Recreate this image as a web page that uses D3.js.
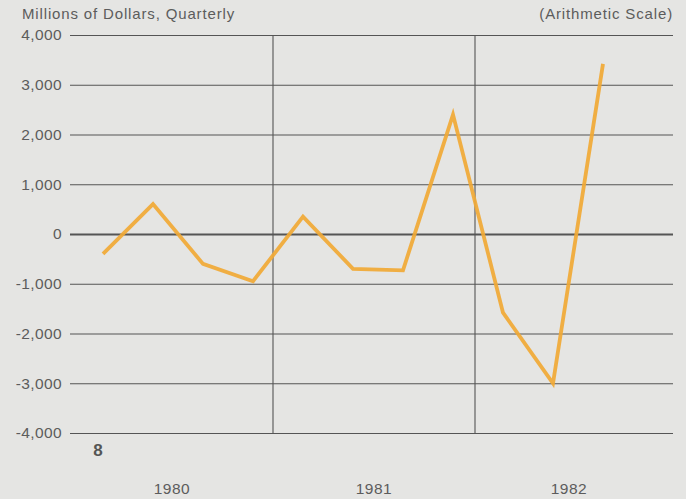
<!DOCTYPE html>
<html><head><meta charset="utf-8">
<script src="https://cdn.jsdelivr.net/npm/d3@7"></script>
<style>
html,body{margin:0;padding:0;background:#e5e5e3;}
svg{display:block;font-family:"Liberation Sans",Arial,sans-serif;}
</style></head>
<body><svg id="c" width="686" height="499"></svg>
<script>
const years = ["1980","1981","1982"];
const quarters = ["1980Q1","1980Q2","1980Q3","1980Q4","1981Q1","1981Q2","1981Q3","1981Q4","1982Q1","1982Q2","1982Q3"];
const values = [-400, 600, -600, -950, 350, -700, -730, 2400, -1580, -3000, 3420];
const yTicks = [4000,3000,2000,1000,0,-1000,-2000,-3000,-4000];

(function(){
const svg = d3.select("#c");
const W = 686, H = 499;
const pLeft = 70, pRight = 673, pTop = 35, pBottom = 433;
const textCol = "#5c5c5c";

// year scale: boundaries at 0, 1, 2, 3
const xYear = d3.scaleLinear().domain([0, 3]).range([71, 677]);
// quarterly points
const x = d3.scalePoint().domain(quarters).range([103, 603]);
const y = d3.scaleLinear().domain([-4000, 4000]).range([pBottom, pTop]);

const fmt = d3.formatLocale({decimal: ".", thousands: ",", grouping: [3], currency: ["$", ""], minus: "-"}).format(",");

svg.append("rect").attr("width", W).attr("height", H).attr("fill", "#e5e5e3");

// horizontal gridlines via axis
const yAxis = d3.axisLeft(y).tickValues(yTicks).tickSize(-(pRight - pLeft)).tickPadding(8)
  .tickFormat(fmt);
const ga = svg.append("g").attr("transform", `translate(${pLeft},0)`).call(yAxis);
ga.select(".domain").remove();
ga.selectAll(".tick line").attr("stroke", "#555").attr("stroke-width", d => d === 0 ? 2.2 : 1.1);
ga.selectAll(".tick text").attr("fill", textCol).attr("font-size", 15.5).attr("letter-spacing", 0.4)
  .attr("font-family", "\"Liberation Sans\",Arial,sans-serif");

// vertical year dividers
svg.append("g").selectAll("line").data([1, 2]).join("line")
  .attr("x1", d => xYear(d)).attr("x2", d => xYear(d))
  .attr("y1", pTop).attr("y2", pBottom)
  .attr("stroke", "#555").attr("stroke-width", 1.1);

// data line
const line = d3.line().x((d, i) => x(quarters[i])).y(d => y(d));
svg.append("path").datum(values).attr("d", line)
  .attr("fill", "none").attr("stroke", "#f1a935").attr("stroke-width", 3.8)
  .attr("stroke-linejoin", "miter").attr("stroke-linecap", "butt").attr("stroke-opacity", 0.92);

// year labels
const yearOffsets = [0, 0, -7];
svg.append("g").selectAll("text").data(years).join("text")
  .attr("x", (d, i) => xYear(i + 0.5) + yearOffsets[i]).attr("y", 494)
  .attr("text-anchor", "middle").attr("fill", textCol).attr("font-size", 15.5).attr("letter-spacing", 0.5)
  .text(d => d);

// header texts
svg.append("text").attr("x", 22).attr("y", 19).attr("fill", textCol).attr("font-size", 15)
  .attr("letter-spacing", 0.85).text("Millions of Dollars, Quarterly");
svg.append("text").attr("x", 673).attr("y", 19).attr("text-anchor", "end").attr("fill", textCol)
  .attr("font-size", 15).attr("letter-spacing", 0.85).text("(Arithmetic Scale)");

// page marker
svg.append("text").attr("x", 98).attr("y", 456).attr("text-anchor", "middle").attr("fill", "#555")
  .attr("font-size", 17).attr("font-weight", "bold").text("8");
})();
</script>
</body></html>
